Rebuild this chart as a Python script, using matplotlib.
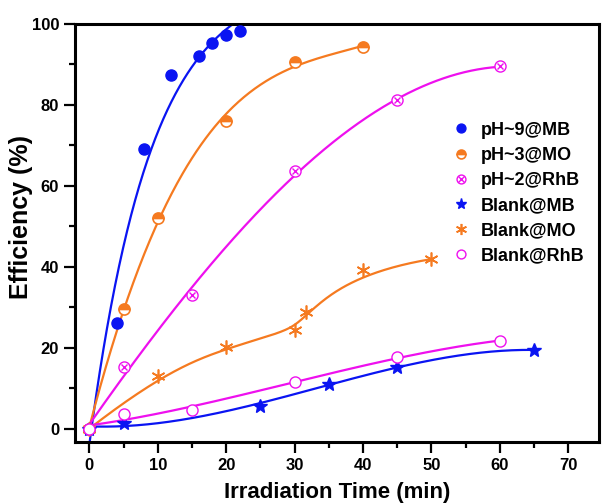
import numpy as np
import matplotlib
matplotlib.use("Agg")
import matplotlib.pyplot as plt
from matplotlib.ticker import MultipleLocator
from matplotlib.legend_handler import HandlerTuple

plt.rcParams['font.family'] = ['Liberation Sans', 'DejaVu Sans']
plt.rcParams['font.weight'] = 'bold'

# ── Datos ────────────────────────────────────────────────────────────────────
t_mb9  = [0, 4, 8, 12, 16, 18, 20, 22]
e_mb9  = [0, 26, 69, 87.3, 92.2, 95.3, 97.3, 98.3]

t_mo3  = [0, 5, 10, 20, 30, 40]
e_mo3  = [0, 29.5, 52, 76, 90.7, 94.3]

t_rhb2 = [0, 5, 15, 30, 45, 60]
e_rhb2 = [0, 15.2, 33, 63.6, 81.1, 89.5]

t_bmb  = [0, 5, 25, 35, 45, 65]
e_bmb  = [0, 1.5, 5.7, 11, 15.3, 19.4]

t_bmo  = [0, 10, 20, 30, 31.7, 40, 50]
e_bmo  = [0, 13.1, 20.2, 24.3, 28.9, 39.1, 41.9]

t_brhb = [0, 5, 15, 30, 45, 60]
e_brhb = [0, 3.6, 4.7, 11.5, 17.6, 21.7]

c_blue, c_orange, c_mag = '#0a14f2', '#f57a20', '#ee10ee'


def ajuste_poli(t, e, deg=3, num=300):
    """Ajuste polinómico por mínimos cuadrados."""
    t = np.asarray(t, float)
    p = np.polyfit(t, e, deg)
    tt = np.linspace(0, t.max(), num)
    return tt, np.polyval(p, tt)


def bspline(px, py, k=3, num=300):
    """B-spline cúbica sujeta, con los puntos como polígono de control."""
    P = np.column_stack([px, py]).astype(float)
    n = len(P)
    k = min(k, n - 1)
    knots = np.concatenate([np.zeros(k), np.linspace(0, 1, n - k + 1), np.ones(k)])
    u = np.linspace(0, 1, num)
    u[-1] -= 1e-9
    N = np.zeros((num, len(knots) - 1))
    for i in range(len(knots) - 1):
        N[:, i] = (knots[i] <= u) & (u < knots[i + 1])
    for d in range(1, k + 1):
        Nn = np.zeros((num, len(knots) - 1 - d))
        for i in range(len(knots) - 1 - d):
            a = knots[i + d] - knots[i]
            b = knots[i + d + 1] - knots[i + 1]
            t1 = (u - knots[i]) / a * N[:, i] if a > 0 else 0
            t2 = (knots[i + d + 1] - u) / b * N[:, i + 1] if b > 0 else 0
            Nn[:, i] = t1 + t2
        N = Nn
    C = N @ P
    return C[:, 0], C[:, 1]


def ajuste_exp(t, e):
    """Ajuste y = a + b*exp(-k t) por mínimos cuadrados (barrido en k)."""
    t = np.asarray(t, float)
    e = np.asarray(e, float)
    best = None
    for k in np.linspace(0.02, 0.6, 581):
        A = np.column_stack([np.ones_like(t), np.exp(-k * t)])
        coef = np.linalg.lstsq(A, e, rcond=None)[0]
        err = np.sum((A @ coef - e) ** 2)
        if best is None or err < best[0]:
            best = (err, k, coef)
    _, k, (a, b) = best
    tt = np.linspace(0, t.max(), 300)
    return tt, a + b * np.exp(-k * tt)


fig = plt.figure(figsize=(6.02, 5.04), dpi=100)
ax = fig.add_axes([75 / 602, 1 - 442 / 504, 524 / 602, 418 / 504])

# ── Curvas ───────────────────────────────────────────────────────────────────
curvas = [ajuste_exp(t_mb9, e_mb9),
          ajuste_poli(t_mo3, e_mo3),
          ajuste_poli(t_rhb2, e_rhb2),
          ajuste_poli(t_bmb, e_bmb),
          bspline(t_bmo, e_bmo),
          ajuste_poli(t_brhb, e_brhb)]
colores = [c_blue, c_orange, c_mag, c_blue, c_orange, c_mag]
for (xs, ys), c in zip(curvas, colores):
    ax.plot(xs, ys, '-', color=c, lw=1.6, zorder=2)

# ── Puntos experimentales ────────────────────────────────────────────────────
h1, = ax.plot(t_mb9, e_mb9, 'o', color=c_blue, ms=8, ls='none', zorder=3)
h2, = ax.plot(t_mo3, e_mo3, 'o', color=c_orange, mfc=c_orange, mfcalt='white',
              fillstyle='top', mew=1.2, ms=8, ls='none', zorder=3)
h3a, = ax.plot(t_rhb2, e_rhb2, 'o', mfc='white', mec=c_mag, mew=1, ms=8, ls='none', zorder=3)
h3b, = ax.plot(t_rhb2, e_rhb2, 'x', color=c_mag, mew=1, ms=5, ls='none', zorder=4)
h4, = ax.plot(t_bmb, e_bmb, '*', color=c_blue, ms=10, ls='none', zorder=3)
h5, = ax.plot(t_bmo, e_bmo, marker=(6, 2, 0), color=c_orange, mew=1.2, ms=10, ls='none', zorder=3)
h6, = ax.plot(t_brhb, e_brhb, 'o', mfc='white', mec=c_mag, mew=1, ms=8, ls='none', zorder=5)

ax.legend([h1, h2, (h3a, h3b), h4, h5, h6],
          ['pH~9@MB', 'pH~3@MO', 'pH~2@RhB', 'Blank@MB', 'Blank@MO', 'Blank@RhB'],
          handler_map={tuple: HandlerTuple(ndivide=1, pad=0)},
          loc='upper left', bbox_to_anchor=(0.689, 0.805), frameon=False,
          fontsize=13, handlelength=1.0, handletextpad=0.6, labelspacing=0.45,
          markerscale=0.8)

ax.set_xlim(-2.1, 74.5)
ax.set_ylim(-3.3, 100)
ax.xaxis.set_major_locator(MultipleLocator(10))
ax.xaxis.set_minor_locator(MultipleLocator(5))
ax.yaxis.set_major_locator(MultipleLocator(20))
ax.yaxis.set_minor_locator(MultipleLocator(10))
ax.tick_params(which='major', direction='out', length=8, width=1.6, labelsize=12)
ax.tick_params(which='minor', direction='out', length=4.5, width=1.6)
for s in ax.spines.values():
    s.set_linewidth(2.2)

ax.set_xlabel('Irradiation Time (min)', fontsize=16, fontweight='bold')
ax.set_ylabel('Efficiency (%)', fontsize=18, fontweight='bold')
ax.xaxis.set_label_coords(0.5, -0.0957)
ax.yaxis.set_label_coords(-0.080, 0.538)

plt.savefig('out.png', dpi=100)
